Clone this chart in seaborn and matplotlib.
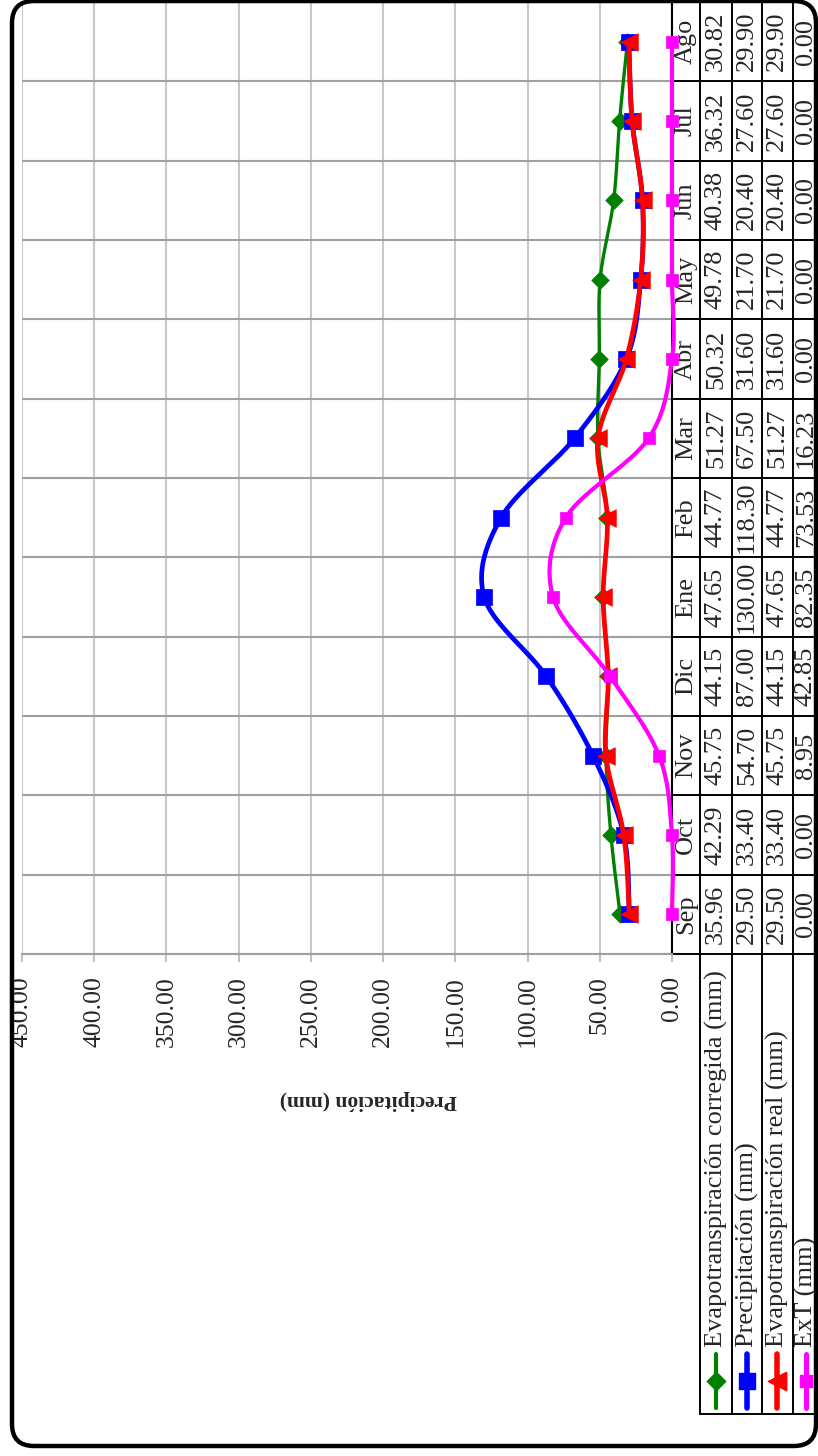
import numpy as np
import pandas as pd
import matplotlib
matplotlib.use("Agg")
import matplotlib.pyplot as plt
import matplotlib.transforms as mtrans
from matplotlib.patches import FancyBboxPatch
import seaborn as sns

# ---------------- data ----------------
months = ["Sep", "Oct", "Nov", "Dic", "Ene", "Feb", "Mar", "Abr", "May", "Jun", "Jul", "Ago"]
et_corregida = [35.96, 42.29, 45.75, 44.15, 47.65, 44.77, 51.27, 50.32, 49.78, 40.38, 36.32, 30.82]
precipitacion = [29.50, 33.40, 54.70, 87.00, 130.00, 118.30, 67.50, 31.60, 21.70, 20.40, 27.60, 29.90]
et_real = [29.50, 33.40, 45.75, 44.15, 47.65, 44.77, 51.27, 31.60, 21.70, 20.40, 27.60, 29.90]
ext = [0.00, 0.00, 8.95, 42.85, 82.35, 73.53, 16.23, 0.00, 0.00, 0.00, 0.00, 0.00]
series_names = ["Evapotranspiración corregida (mm)", "Precipitación (mm)",
                "Evapotranspiración real (mm)", "ExT (mm)"]
value_ticks = [0, 50, 100, 150, 200, 250, 300, 350, 400, 450]
axis_title = "Precipitación (mm)"

# ---------------- style ----------------
sns.set_theme(style="white")
plt.rcParams["font.family"] = ["Liberation Serif", "DejaVu Serif"]

W, H = 818, 1456
fig = plt.figure(figsize=(W / 100, H / 100), dpi=100, facecolor="white")

PL, PR, PT, PB = 22, 672, 2, 954  # plot area in pixels

# overlay axes in pixel coordinates (below the chart)
ov = fig.add_axes([0, 0, 1, 1], zorder=0)
ov.set_xlim(0, W)
ov.set_ylim(H, 0)
ov.axis("off")

ax = fig.add_axes([PL / W, 1 - PB / H, (PR - PL) / W, (PB - PT) / H], zorder=1)
ax.set_facecolor("none")

idx = np.arange(len(months))
df = pd.DataFrame({"mes": months, "idx": idx,
                   series_names[0]: et_corregida, series_names[1]: precipitacion,
                   series_names[2]: et_real, series_names[3]: ext})


def smooth(vals, n=24):
    """Excel-style smoothed line (cubic Bezier with Catmull-Rom tangents)."""
    P = np.column_stack([np.arange(len(vals), dtype=float), np.asarray(vals, float)])
    P = np.vstack([P[0], P, P[-1]])
    out = []
    for i in range(1, len(P) - 2):
        p0, p1, p2, p3 = P[i - 1], P[i], P[i + 1], P[i + 2]
        c1 = p1 + (p2 - p0) / 6.0
        c2 = p2 - (p3 - p1) / 6.0
        t = np.linspace(0, 1, n, endpoint=(i == len(P) - 3))[:, None]
        out.append((1 - t) ** 3 * p1 + 3 * (1 - t) ** 2 * t * c1 + 3 * (1 - t) * t ** 2 * c2 + t ** 3 * p2)
    return np.vstack(out)


styles = [
    dict(color="#008000", lw=2.4, marker="D", s=80, z=3),
    dict(color="#0000FF", lw=3.4, marker="s", s=130, z=4),
    dict(color="#FF0000", lw=3.4, marker="<", s=160, z=5),
    dict(color="#FF00FF", lw=3.0, marker="s", s=72, z=6),
]

for name, st in zip(series_names, styles):
    sm = smooth(df[name].values)
    sns.lineplot(x=sm[:, 1], y=sm[:, 0], sort=False, estimator=None, ax=ax,
                 color=st["color"], linewidth=st["lw"], zorder=st["z"], clip_on=False)
    sns.scatterplot(data=df, x=name, y="idx", ax=ax, marker=st["marker"], s=st["s"],
                    color=st["color"], edgecolor=st["color"], linewidth=0.5,
                    zorder=st["z"] + 0.1, clip_on=False, legend=False)

ax.set_xlim(450, 0)
ax.set_ylim(-0.5, len(months) - 0.5)
ax.set_xticks(value_ticks)
ax.set_xticklabels([f"{v:.2f}" for v in value_ticks], rotation=90, fontsize=18.5)
ax.set_yticks([])
ax.set_yticks(np.arange(-0.5, len(months), 1), minor=True)
ax.tick_params(axis="x", which="major", length=6, width=1.5, color="#C0C0C0", pad=10, bottom=True)
ax.tick_params(axis="y", which="both", length=0, left=False)
ax.grid(True, axis="x", which="major", color="#C8C8C8", linewidth=1.5)
ax.grid(True, axis="y", which="minor", color="#A0A0A0", linewidth=1.5)
ax.set_xlabel("")
ax.set_ylabel("")
for side in ["top", "left"]:
    ax.spines[side].set_visible(False)
ax.spines["bottom"].set_color("#A0A0A0")
ax.spines["bottom"].set_linewidth(1.5)
ax.spines["right"].set_color("black")
ax.spines["right"].set_linewidth(1.5)

# axis title (upside down, as in the reference)
ov.text(368, 1100, axis_title, rotation=180, ha="center", va="center",
        fontsize=15.5, fontweight="bold")

# ---------------- data table ----------------
bl = mtrans.blended_transform_factory(ov.transData, ax.transData)
col_edges = [700, 732, 762, 793]
col_centers = [716, 747, 777, 806]
TFS = 19
# vertical table lines
for xe in col_edges:
    ov.plot([xe, xe], [PT, 1414], color="black", lw=1.4, zorder=1)
# horizontal lines at month boundaries
for b in np.arange(-0.5, len(months) - 0.5, 1):
    ov.plot([PR, W], [b, b], color="black", lw=1.4, transform=bl, zorder=1)
ov.plot([700, W], [1414, 1414], color="black", lw=1.4, zorder=1)

# month headers and values
for i, m in enumerate(months):
    ov.text(686, i, m, transform=bl, rotation=90, ha="center", va="center", fontsize=TFS)
series_vals = [et_corregida, precipitacion, et_real, ext]
for cx, vals in zip(col_centers, series_vals):
    for i, v in enumerate(vals):
        ov.text(cx, i, f"{v:.2f}", transform=bl, rotation=90, ha="center", va="center",
                fontsize=TFS)

# row headers with legend keys
for cx, name, st in zip(col_centers, series_names, styles):
    ov.text(cx, 1347, name, rotation=90, ha="center", va="bottom", fontsize=TFS)
    ov.plot([cx, cx], [1354, 1408], color=st["color"], lw=st["lw"] + 0.6,
            solid_capstyle="round", zorder=2)
    ov.scatter([cx], [1381], marker=st["marker"], s=st["s"] * 1.1, color=st["color"],
               zorder=3)

# ---------------- outer rounded border ----------------
top = fig.add_axes([0, 0, 1, 1], zorder=3)
top.set_xlim(0, W)
top.set_ylim(H, 0)
top.axis("off")
top.set_facecolor("none")
top.add_patch(FancyBboxPatch((12, 1), 804, 1445, boxstyle="round,pad=0,rounding_size=22",
                             linewidth=3.2, edgecolor="black", facecolor="none", clip_on=False))

fig.savefig("out.png", dpi=100, facecolor="white")
